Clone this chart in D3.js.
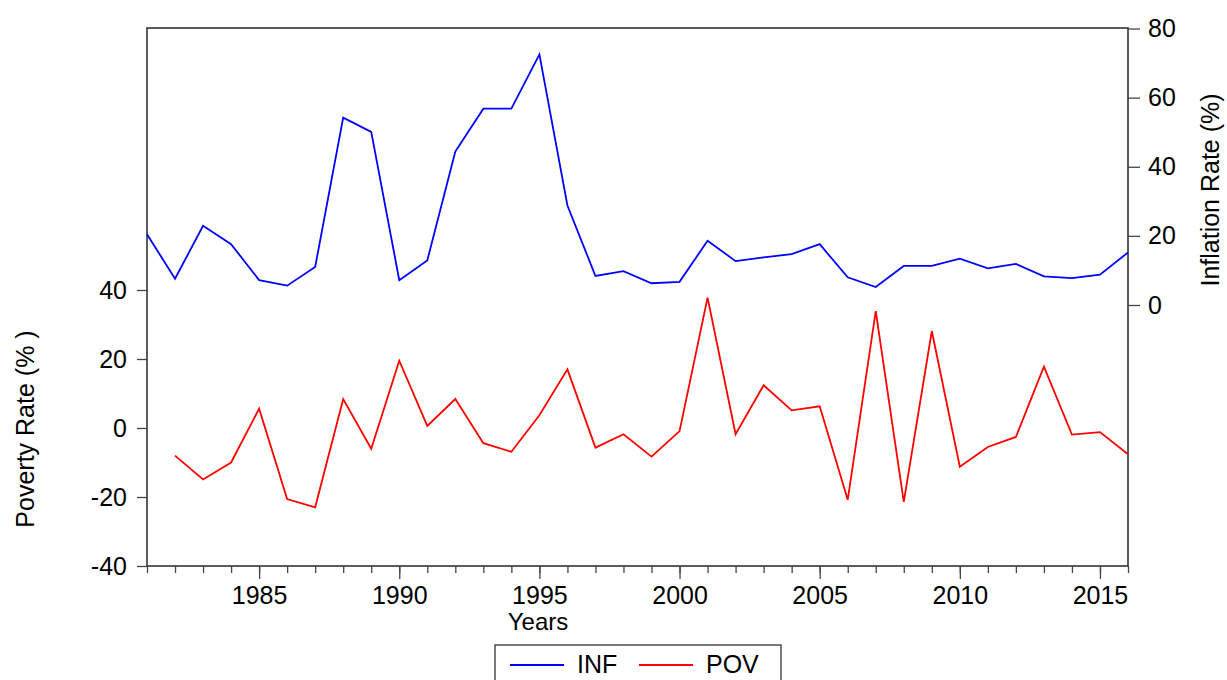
<!DOCTYPE html>
<html>
<head>
<meta charset="utf-8">
<script src="https://cdn.jsdelivr.net/npm/d3@7"></script>
<style>
  body { margin: 0; background: #fff; }
  svg { display: block; font-family: "Liberation Sans", Arial, sans-serif; }
</style>
</head>
<body>
<div id="chart"></div>
<script>
// years 1981..2016
const years = d3.range(1981, 2017);

// inflation rate (%), right axis
const inf = [20.5, 7.6, 22.9, 17.6, 7.2, 5.6, 11.0, 54.2, 50.1, 7.2,
             12.9, 44.4, 56.8, 56.8, 72.5, 28.8, 8.4, 9.8, 6.3, 6.7,
             18.6, 12.7, 13.8, 14.7, 17.6, 8.0, 5.2, 11.3, 11.3, 13.4,
             10.6, 11.9, 8.3, 7.8, 8.8, 15.2];

// poverty rate (%), left axis - no value for 1981
const pov = [null, -8.0, -14.9, -10.0, 5.6, -20.6, -23.0, 8.4, -6.0, 19.5,
             0.6, 8.4, -4.4, -6.9, 3.7, 17.0, -5.7, -1.8, -8.3, -0.9,
             37.8, -1.8, 12.4, 5.1, 6.3, -20.8, 33.9, -21.4, 28.1, -11.2,
             -5.5, -2.6, 17.8, -1.9, -1.2, -7.6];

const leftTicks = [-40, -20, 0, 20, 40];
const rightTicks = [0, 20, 40, 60, 80];
const yearLabels = [1985, 1990, 1995, 2000, 2005, 2010, 2015];

const width = 1227, height = 680;
const plot = { left: 147, right: 1128, top: 28, bottom: 566 };

const svg = d3.select("#chart").append("svg")
    .attr("width", width)
    .attr("height", height);

const x = d3.scaleLinear().domain([1981, 2016]).range([plot.left, plot.right]);
const yL = d3.scaleLinear().domain([-40, 40]).range([566, 290]);
const yR = d3.scaleLinear().domain([0, 80]).range([305, 28.5]);

// plain hyphen for negatives, like the original
const fmt = d => String(d);

// frame
svg.append("rect")
    .attr("x", plot.left).attr("y", plot.top)
    .attr("width", plot.right - plot.left).attr("height", plot.bottom - plot.top)
    .attr("fill", "none")
    .attr("stroke", "#333")
    .attr("stroke-width", 1.6);

function styleAxis(g) {
    g.select(".domain").remove();
    g.selectAll(".tick line").attr("stroke", "#444").attr("stroke-width", 1.3);
    g.selectAll(".tick text").attr("fill", "#000").style("font-size", "25px")
        .style("font-family", "'Liberation Sans', Arial, sans-serif");
}

// left axis
svg.append("g")
    .attr("transform", `translate(${plot.left},0)`)
    .call(d3.axisLeft(yL).tickValues(leftTicks).tickSize(10).tickPadding(10).tickFormat(fmt))
    .call(styleAxis);

// right axis
svg.append("g")
    .attr("transform", `translate(${plot.right},0)`)
    .call(d3.axisRight(yR).tickValues(rightTicks).tickSize(12).tickPadding(8).tickFormat(fmt))
    .call(styleAxis);

// bottom axis: minor ticks every year, major every 5
svg.append("g")
    .attr("transform", `translate(0,${plot.bottom})`)
    .call(d3.axisBottom(x).tickValues(years).tickSize(7).tickFormat(""))
    .call(styleAxis);

svg.append("g")
    .attr("transform", `translate(0,${plot.bottom})`)
    .call(d3.axisBottom(x).tickValues(yearLabels).tickSize(13).tickPadding(7).tickFormat(fmt))
    .call(styleAxis);

// lines
const lineInf = d3.line()
    .x((d, i) => x(years[i]))
    .y(d => yR(d));

const linePov = d3.line()
    .defined(d => d != null)
    .x((d, i) => x(years[i]))
    .y(d => yL(d));

svg.append("path")
    .datum(inf)
    .attr("d", lineInf)
    .attr("fill", "none")
    .attr("stroke", "#0000ff")
    .attr("stroke-width", 1.8);

svg.append("path")
    .datum(pov)
    .attr("d", linePov)
    .attr("fill", "none")
    .attr("stroke", "#ff0000")
    .attr("stroke-width", 1.8);

// axis titles
svg.append("text")
    .attr("transform", "translate(34,429) rotate(-90)")
    .attr("text-anchor", "middle")
    .style("font-size", "25px")
    .text("Poverty Rate (% )");

svg.append("text")
    .attr("transform", "translate(1219,190) rotate(-90)")
    .attr("text-anchor", "middle")
    .style("font-size", "25px")
    .text("Inflation Rate (%)");

svg.append("text")
    .attr("x", 538).attr("y", 630)
    .attr("text-anchor", "middle")
    .style("font-size", "24px")
    .text("Years");

// legend
const legend = svg.append("g");
legend.append("rect")
    .attr("x", 495).attr("y", 645)
    .attr("width", 286).attr("height", 45)
    .attr("fill", "#fff")
    .attr("stroke", "#333")
    .attr("stroke-width", 1.3);

const legendItems = [
    { name: "INF", color: "#0000ff", x0: 510 },
    { name: "POV", color: "#ff0000", x0: 639 }
];

legendItems.forEach(d => {
    legend.append("line")
        .attr("x1", d.x0).attr("x2", d.x0 + 54)
        .attr("y1", 665).attr("y2", 665)
        .attr("stroke", d.color)
        .attr("stroke-width", 1.8);
    legend.append("text")
        .attr("x", d.x0 + 67).attr("y", 673)
        .style("font-size", "25px")
        .text(d.name);
});
</script>
</body>
</html>
